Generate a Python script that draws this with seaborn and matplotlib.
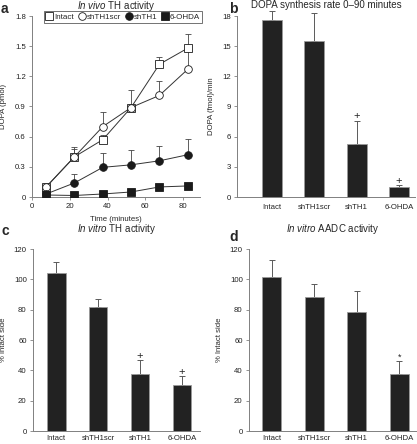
import numpy as np
import pandas as pd
import matplotlib
matplotlib.use('Agg')
import matplotlib.pyplot as plt
import seaborn as sns

sns.set_style("ticks")
plt.rcParams['font.family'] = ['Liberation Sans', 'DejaVu Sans']
plt.rcParams['font.size'] = 5.5
plt.rcParams['mathtext.fontset'] = 'custom'
plt.rcParams['mathtext.rm'] = 'Liberation Sans'
plt.rcParams['mathtext.it'] = 'Liberation Sans:italic'

# 数据
groups = ["Intact", "shTH1scr", "shTH1", "6-OHDA"]
time_min = [7.5, 22.5, 37.5, 52.5, 67.5, 82.5]
dopa_intact = [0.10, 0.40, 0.57, 0.89, 1.32, 1.48]
dopa_intact_err = [0.11, 0.50, 0.62, 0.90, 1.39, 1.62]
dopa_scr = [0.10, 0.40, 0.70, 0.89, 1.01, 1.27]
dopa_scr_err = [0.11, 0.48, 0.85, 1.06, 1.15, 1.45]
dopa_sh = [0.03, 0.14, 0.295, 0.32, 0.36, 0.42]
dopa_sh_err = [0.04, 0.23, 0.44, 0.47, 0.51, 0.58]
dopa_ohda = [0.02, 0.015, 0.03, 0.05, 0.10, 0.11]
dopa_ohda_err = [0.02, 0.015, 0.03, 0.05, 0.10, 0.11]

rate = [17.6, 15.5, 5.3, 1.0]
rate_err = [18.5, 18.3, 7.6, 1.2]
th_vitro = [104, 82, 37.5, 30.5]
th_vitro_err = [111.5, 87, 47, 36.5]
aadc_vitro = [101.5, 88.5, 78.5, 37.5]
aadc_vitro_err = [113, 97, 92.5, 46]

W, H = 417, 444
fig = plt.figure(figsize=(W / 100, H / 100), dpi=100)


def px_axes(left, top, right, bottom):
    return fig.add_axes([left / W, 1 - bottom / H, (right - left) / W, (bottom - top) / H])


spine_c = "#808080"
bar_c = "#222222"
FS = 5.6
TFS = 7


def style_ax(ax):
    sns.despine(ax=ax)
    for s in ["left", "bottom"]:
        ax.spines[s].set_color(spine_c)
        ax.spines[s].set_linewidth(0.7)
    ax.tick_params(colors=spine_c, labelcolor="#222222", labelsize=FS,
                   length=2.5, width=0.6, pad=2)


def bar_panel(ax, vals, tops, width, xlim, ylim, yticks, marks, xpad):
    df = pd.DataFrame({"group": groups, "val": vals})
    sns.barplot(data=df, x="group", y="val", color=bar_c, width=width,
                edgecolor="#9a9a9a", linewidth=0.6, saturation=1, ax=ax, zorder=3)
    x = np.arange(len(groups))
    v = np.array(vals)
    t = np.array(tops)
    ax.errorbar(x, v, yerr=[np.zeros_like(v), t - v], fmt="none", ecolor="#5a5a5a",
                elinewidth=0.7, capsize=2.5, capthick=0.7, clip_on=False, zorder=2)
    for i, m in marks.items():
        ax.text(i, tops[i] - ylim[1] * 0.005, m, ha="center", va="bottom",
                fontsize=8 if m == "+" else 6.5, color="#222222")
    ax.set_xlim(*xlim)
    ax.set_ylim(*ylim)
    ax.set_yticks(yticks)
    ax.set_xlabel("")
    style_ax(ax)
    ax.tick_params(axis="x", length=0, pad=xpad)


# a
ax_a = px_axes(32, 16, 200, 197)
series = [
    ("Intact", dopa_intact, dopa_intact_err, "s", "white"),
    ("shTH1scr", dopa_scr, dopa_scr_err, "o", "white"),
    ("shTH1", dopa_sh, dopa_sh_err, "o", "#1a1a1a"),
    ("6-OHDA", dopa_ohda, dopa_ohda_err, "s", "#1a1a1a"),
]
for name, y, top, mk, fc in series:
    y = np.array(y)
    top = np.array(top)
    ax_a.errorbar(time_min, y, yerr=[np.zeros_like(y), top - y], fmt="none",
                  ecolor="#444444", elinewidth=0.6, capsize=2.5, capthick=0.6, zorder=2)
    sns.lineplot(x=time_min, y=y, ax=ax_a, color="#333333", linewidth=0.7,
                 marker=mk, markersize=5.5, markerfacecolor=fc,
                 markeredgecolor="#1a1a1a", markeredgewidth=0.6, label=name, zorder=3)
ax_a.set_xlim(0, 89)
ax_a.set_ylim(0, 1.8)
ax_a.set_xticks([0, 20, 40, 60, 80])
ax_a.set_yticks([0, 0.3, 0.6, 0.9, 1.2, 1.5, 1.8])
ax_a.set_yticklabels(["0", "0.3", "0.6", "0.9", "1.2", "1.5", "1.8"])
ax_a.set_xlabel("Time (minutes)", fontsize=FS, labelpad=4)
ax_a.set_ylabel("DOPA (pmol)", fontsize=FS, labelpad=6)
style_ax(ax_a)
leg = ax_a.legend(loc="upper left", bbox_to_anchor=(0.07, 1.028), ncol=4, fontsize=5.8,
                  frameon=True, fancybox=False, handlelength=0.8, handletextpad=0.2,
                  columnspacing=0.6, borderpad=0.25, borderaxespad=0)
leg.get_frame().set_edgecolor("#333333")
leg.get_frame().set_linewidth(0.6)
for h in leg.get_lines():
    h.set_linestyle("none")
ax_a.set_title(r"$\it{In\ vivo}$ TH activity", fontsize=TFS, pad=5)

# b
ax_b = px_axes(237, 16, 415, 197)
bar_panel(ax_b, rate, rate_err, 0.47, (-0.83, 3.38), (0, 18), [0, 3, 6, 9, 12, 15, 18],
          {2: "+", 3: "+"}, 5)
ax_b.set_ylabel("DOPA (fmol)/min", fontsize=FS, labelpad=5)
ax_b.set_title("DOPA synthesis rate 0\u201390 minutes", fontsize=TFS, pad=6)

# c
ax_c = px_axes(33, 249, 200, 431)
bar_panel(ax_c, th_vitro, th_vitro_err, 0.45, (-0.55, 3.43), (0, 120),
          [0, 20, 40, 60, 80, 100, 120], {2: "+", 3: "+"}, 3)
ax_c.set_ylabel("% Intact side", fontsize=FS, labelpad=5)
ax_c.set_title(r"$\it{In\ vitro}$ TH activity", fontsize=TFS, pad=12)

# d
ax_d = px_axes(249, 249, 417, 431)
bar_panel(ax_d, aadc_vitro, aadc_vitro_err, 0.45, (-0.53, 3.42), (0, 120),
          [0, 20, 40, 60, 80, 100, 120], {3: "*"}, 3)
ax_d.set_ylabel("% Intact side", fontsize=FS, labelpad=5)
ax_d.set_title(r"$\it{In\ vitro}$ AADC activity", fontsize=TFS, pad=12)

# panel letters
for lab, x, y in [("a", 1, 9), ("b", 229, 9), ("c", 2, 231), ("d", 229, 237)]:
    fig.text(x / W, 1 - y / H, lab, fontsize=10, fontweight="bold", va="center", ha="left")

fig.savefig("out.png", dpi=100)
